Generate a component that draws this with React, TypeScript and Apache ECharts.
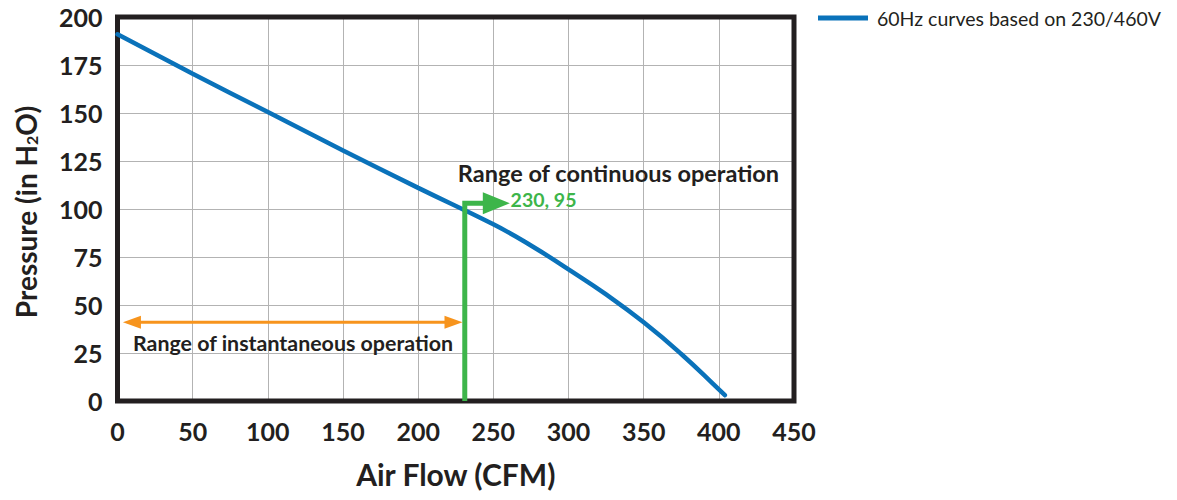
import React, { useEffect, useRef } from "react";
import * as echarts from "echarts";

const xTicks = [0, 50, 100, 150, 200, 250, 300, 350, 400, 450];
const yTicks = [0, 25, 50, 75, 100, 125, 150, 175, 200];

const curveName = "60Hz curves based on 230/460V";
const curveFlow = [0, 50, 100, 150, 200, 250, 275, 300, 325, 350, 375, 400, 404];
const curvePressure = [191, 170.5, 150.5, 130.5, 111, 92, 81, 68.5, 55.5, 41, 24.5, 6, 3];

const continuousFlow = [231, 231, 252];
const continuousPressure = [0, 103, 103];

const instantFlow = [9.6, 223.5];
const instantPressure = [41, 41];

const noteTexts = ["Range of continuous operation", "230, 95", "Range of instantaneous operation"];
const noteFlow = [226.4, 261.5, 10.3];
const notePressure = [118.7, 105, 30.2];
const noteSizes = [23.5, 19.5, 21.4];
const noteKinds = ["dark", "green", "dark"];

const DARK = "#231f20";
const BLUE = "#0a72ba";
const GREEN = "#3db54a";
const ORANGE = "#f7941d";
const FONT = "Lato";

export default function App() {
  const ref = useRef<HTMLDivElement>(null);
  useEffect(() => {
    if (!ref.current) return;
    const chart = echarts.init(ref.current, undefined, { renderer: "svg" });
    const lastIdx = continuousFlow.length - 1;
    chart.setOption({
      animation: false,
      textStyle: { fontFamily: FONT },
      grid: {
        left: 117.5,
        right: 383,
        top: 17,
        bottom: 99,
        show: true,
        borderColor: DARK,
        borderWidth: 5,
        z: 1,
      },
      legend: {
        data: [curveName],
        left: 818,
        top: 8,
        padding: 0,
        icon: "rect",
        itemWidth: 50,
        itemHeight: 5,
        textStyle: { fontSize: 19.5, color: DARK, fontFamily: FONT, padding: [0, 0, 0, 4] },
      },
      xAxis: {
        type: "value",
        min: 0,
        max: 450,
        interval: 50,
        name: "Air Flow (CFM)",
        nameLocation: "middle",
        nameGap: 58,
        nameTextStyle: { fontSize: 30, fontWeight: "bold", color: DARK, fontFamily: FONT },
        axisLine: { show: false },
        axisTick: { show: false },
        axisLabel: {
          margin: 17,
          fontSize: 25,
          fontWeight: "bold",
          color: DARK,
          fontFamily: FONT,
          formatter: (v: number) => String(xTicks.includes(v) ? v : ""),
        },
        splitLine: { show: true, lineStyle: { color: "#b3b3b3", width: 1 } },
      },
      yAxis: {
        type: "value",
        min: 0,
        max: 200,
        interval: 25,
        name: "Pressure (in H{sub|2}O)",
        nameLocation: "middle",
        nameGap: 78,
        nameRotate: 90,
        nameTextStyle: {
          fontSize: 28,
          fontWeight: "bold",
          color: DARK,
          fontFamily: FONT,
          padding: [0, 6, 0, 0],
          rich: {
            sub: { fontSize: 16, fontWeight: "bold", color: DARK, fontFamily: FONT, verticalAlign: "bottom", padding: [12, 0, 0, 0] },
          },
        },
        axisLine: { show: false },
        axisTick: { show: false },
        axisLabel: {
          margin: 15,
          fontSize: 25,
          fontWeight: "bold",
          color: DARK,
          fontFamily: FONT,
          formatter: (v: number) => String(yTicks.includes(v) ? v : ""),
        },
        splitLine: { show: true, lineStyle: { color: "#b3b3b3", width: 1 } },
      },
      series: [
        {
          name: curveName,
          type: "line",
          smooth: 0.5,
          symbol: "none",
          color: BLUE,
          lineStyle: { color: BLUE, width: 4.5, cap: "round" },
          data: curveFlow.map((x, i) => [x, curvePressure[i]]),
          z: 3,
        },
        {
          name: "continuous",
          type: "line",
          symbol: "none",
          showSymbol: true,
          color: GREEN,
          lineStyle: { color: GREEN, width: 5, join: "miter" },
          data: continuousFlow.map((x, i) =>
            i === lastIdx
              ? { value: [x, continuousPressure[i]], symbol: "triangle", symbolSize: [22, 27], symbolRotate: -90, itemStyle: { color: GREEN } }
              : { value: [x, continuousPressure[i]], symbol: "none" }
          ),
          z: 4,
        },
        {
          name: "instantaneous",
          type: "line",
          symbol: "none",
          showSymbol: true,
          color: ORANGE,
          lineStyle: { color: ORANGE, width: 3 },
          data: instantFlow.map((x, i) => ({
            value: [x, instantPressure[i]],
            symbol: "triangle",
            symbolSize: [13, 18],
            symbolRotate: i === 0 ? 90 : -90,
            itemStyle: { color: ORANGE },
          })),
          z: 4,
        },
        {
          name: "notes",
          type: "scatter",
          symbolSize: 0,
          silent: true,
          itemStyle: { opacity: 1 },
          data: noteTexts.map((t, i) => ({
            name: t,
            value: [noteFlow[i], notePressure[i]],
            label: {
              show: true,
              position: "right",
              distance: 0,
              formatter: "{b}",
              fontFamily: FONT,
              fontWeight: "bold",
              fontSize: noteSizes[i],
              color: noteKinds[i] === "green" ? GREEN : DARK,
            },
          })),
          z: 5,
        },
      ],
    });
    return () => chart.dispose();
  }, []);
  return <div ref={ref} style={{ width: 1177, height: 500, position: "absolute", left: 0, top: 0 }} />;
}
